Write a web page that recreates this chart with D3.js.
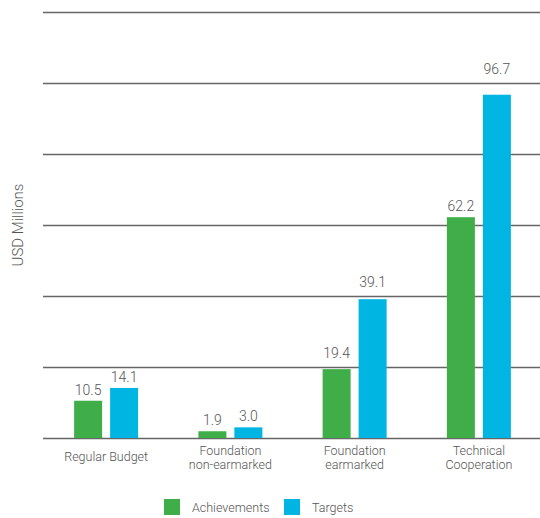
<!DOCTYPE html>
<html>
<head>
<meta charset="utf-8">
<script src="https://cdn.jsdelivr.net/npm/d3@7"></script>
<style>
  body { margin: 0; background: #fff; }
  text { font-family: Roboto, "Noto Sans", sans-serif; font-weight: 300; fill: #555; }
</style>
</head>
<body>
<svg id="chart" width="540" height="518"></svg>
<script>
// data
var categories = [["Regular Budget"], ["Foundation", "non-earmarked"], ["Foundation", "earmarked"], ["Technical", "Cooperation"]];
var seriesNames = ["Achievements", "Targets"];
var achievements = [10.5, 1.9, 19.4, 62.2];
var targets = [14.1, 3.0, 39.1, 96.7];
var yTicks = [0, 20, 40, 60, 80, 100, 120];
var colors = ["#3fae49", "#00b5e2"];

var svg = d3.select("#chart");
var margin = {left: 43, right: 0, top: 12, bottom: 80};
var W = 540, H = 518;

var x = d3.scaleBand()
    .domain(d3.range(categories.length))
    .range([margin.left + 1, W - margin.right + 1]);

var x1 = d3.scaleBand()
    .domain([0, 1])
    .range([-32, 32])
    .paddingInner(0.222);

var y = d3.scaleLinear()
    .domain([0, 120])
    .range([438, margin.top]);

//gridlines
svg.append("g").selectAll("line")
    .data(yTicks)
    .join("line")
    .attr("x1", margin.left)
    .attr("x2", W)
    .attr("y1", d => Math.round(y(d)) + 0.5)
    .attr("y2", d => Math.round(y(d)) + 0.5)
    .attr("stroke", "#666")
    .attr("stroke-width", 1.3);

//labels hop over a gridline that sits just above the bar top
function labelY(v) {
    var top = y(v);
    var grid = yTicks.map(t => y(t)).filter(g => g < top && top - g < 14);
    if (grid.length) return grid[0] - 9;
    return top - 6;
}

var series = [achievements, targets];

series.forEach((vals, s) => {
    var g = svg.append("g");
    g.selectAll("rect")
        .data(vals)
        .join("rect")
        .attr("x", (d, i) => x(i) + x.bandwidth() / 2 + x1(s))
        .attr("width", x1.bandwidth())
        .attr("y", d => y(d))
        .attr("height", d => y(0) - y(d))
        .attr("fill", colors[s]);

    g.selectAll("text")
        .data(vals)
        .join("text")
        .attr("x", (d, i) => x(i) + x.bandwidth() / 2 + x1(s) + x1.bandwidth() / 2)
        .attr("y", d => labelY(d))
        .attr("text-anchor", "middle")
        .style("font-size", "14px")
        .text(d => d.toFixed(1));
});

//category labels
var cat = svg.append("g").selectAll("text")
    .data(categories)
    .join("text")
    .attr("text-anchor", "middle")
    .attr("transform", (d, i) => `translate(${x(i) + x.bandwidth() / 2},${d.length > 1 ? 455 : 461})`)
    .style("font-size", "12.5px");

cat.selectAll("tspan")
    .data(d => d)
    .join("tspan")
    .attr("x", 0)
    .attr("dy", (d, i) => i == 0 ? 0 : 14)
    .text(d => d);

//y axis title
svg.append("text")
    .attr("transform", "translate(23,225) rotate(-90)")
    .attr("text-anchor", "middle")
    .style("font-size", "15px")
    .text("USD Millions");

//legend
var legendX = [164, 284];
var legend = svg.append("g").selectAll("g")
    .data(seriesNames)
    .join("g")
    .attr("transform", (d, i) => `translate(${legendX[i]},499)`);

legend.append("rect")
    .attr("width", 16)
    .attr("height", 16)
    .attr("fill", (d, i) => colors[i]);

legend.append("text")
    .attr("x", 28)
    .attr("y", 13)
    .style("font-size", "12.5px")
    .text(d => d);
</script>
</body>
</html>
